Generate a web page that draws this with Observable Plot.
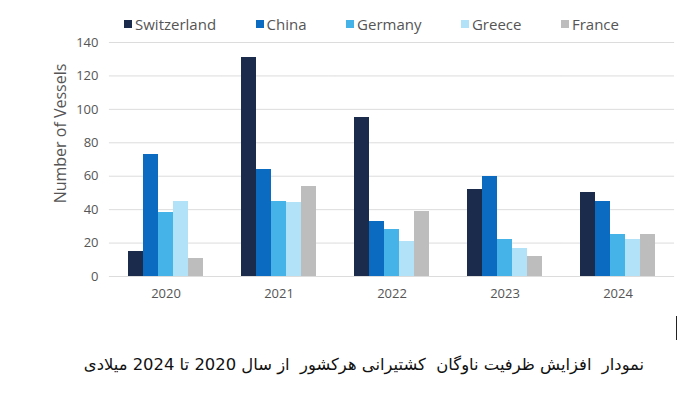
<!DOCTYPE html>
<html>
<head>
<meta charset="utf-8">
<script src="https://cdn.jsdelivr.net/npm/d3@7"></script>
<script src="https://cdn.jsdelivr.net/npm/@observablehq/plot@0.6"></script>
<style>
  html, body { margin: 0; padding: 0; background: #fff; }
  #wrap { position: relative; width: 700px; height: 406px; overflow: hidden; }
  #legend { height: 32px; box-sizing: border-box; padding-top: 15px; padding-left: 124px; display: flex; align-items: center;
            font-family: "Open Sans", sans-serif; font-size: 15px; line-height: 18px; color: #555; }
  #legend .item { display: flex; align-items: center; margin-right: 39.5px; }
  #legend .sw { width: 8px; height: 8px; margin-right: 3px; }
  #caption { position: absolute; left: 0; top: 355px; width: 728px; text-align: center; direction: rtl; white-space: pre;
             font-family: "DejaVu Sans", sans-serif; font-size: 16.4px; color: #111; }
  #cursor { position: absolute; left: 676px; top: 316px; width: 1px; height: 24px; background: #222; }
</style>
</head>
<body>
<div id="wrap">
  <div id="legend"></div>
  <div id="chart"></div>
  <div id="cursor"></div>
  <div id="caption">نمودار  افزایش ظرفیت ناوگان  کشتیرانی هرکشور  از سال 2020 تا 2024 میلادی</div>
</div>
<script>
const years = ["2020", "2021", "2022", "2023", "2024"];
const countries = ["Switzerland", "China", "Germany", "Greece", "France"];
const switzerland = [15, 131, 95, 52, 50];
const china = [73, 64, 33, 60, 45];
const germany = [38, 45, 28, 22, 25];
const greece = [45, 44, 21, 17, 22];
const france = [11, 54, 39, 12, 25];
const colors = ["#1a2b4b", "#0b6bc1", "#45b2e8", "#b2e2f7", "#bdbdbd"];
const yTicks = [0, 20, 40, 60, 80, 100, 120, 140];
const yLabel = "Number of Vessels";

const series = [switzerland, china, germany, greece, france];
const table = [];
years.forEach((yr, i) => {
  countries.forEach((c, j) => table.push({year: yr, country: c, value: series[j][i]}));
});

// legend
const legend = document.getElementById("legend");
countries.forEach((c, j) => {
  const it = document.createElement("div");
  it.className = "item";
  const sw = document.createElement("span");
  sw.className = "sw";
  sw.style.background = colors[j];
  const tx = document.createElement("span");
  tx.textContent = c;
  it.appendChild(sw);
  it.appendChild(tx);
  legend.appendChild(it);
});

const chart = Plot.plot({
  width: 700,
  height: 280,
  marginTop: 10,
  marginLeft: 108,
  marginRight: 24,
  marginBottom: 36,
  style: {fontFamily: "'Open Sans', sans-serif", fontSize: "13px", color: "#555", background: "#fff"},
  fx: {domain: years, paddingInner: 0.3, paddingOuter: 0.15, label: null, tickSize: 0, tickPadding: 12, axis: "bottom"},
  x: {domain: countries, axis: null, padding: 0},
  y: {domain: [0, 140], ticks: yTicks, label: null, tickSize: 0, tickPadding: 28},
  color: {domain: countries, range: colors},
  marks: [
    Plot.ruleY(yTicks, {stroke: "#dcdcdc", strokeWidth: 1, insetLeft: -17.1, insetRight: -17.1}),
    Plot.barY(table, {fx: "year", x: "country", y: "value", fill: "country", shapeRendering: "crispEdges"}),
    Plot.text([yLabel], {frameAnchor: "left", textAnchor: "middle", rotate: -90, dx: -66, dy: -26, fontSize: 16, fill: "#555", facet: "super"})
  ]
});
document.getElementById("chart").appendChild(chart);
</script>
</body>
</html>
